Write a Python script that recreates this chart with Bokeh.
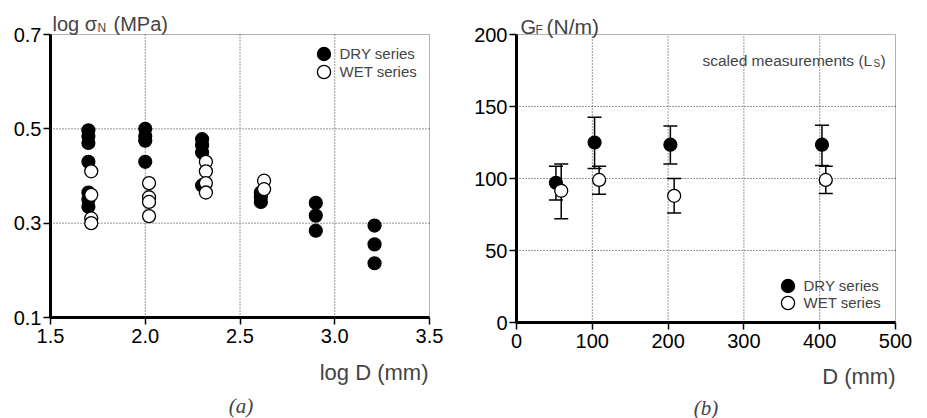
import numpy as np
from bokeh.plotting import figure
from bokeh.layouts import row
from bokeh.models import (ColumnDataSource, Label, Legend, LegendItem, FixedTicker,
                          Whisker, TeeHead, Range1d, NumeralTickFormatter, BoxAnnotation)
from bokeh.embed import file_html
from bokeh.resources import INLINE

# ---------------- data: panel (a) ----------------
series_names = ["DRY series", "WET series"]

dry_logD_a = [1.70] * 7 + [2.00] * 4 + [2.30] * 4 + [2.61] * 3 + [2.90] * 3 + [3.21] * 3
dry_logsig = [0.497, 0.485, 0.47, 0.43, 0.365, 0.35, 0.335,
              0.50, 0.485, 0.475, 0.43,
              0.478, 0.465, 0.45, 0.38,
              0.365, 0.355, 0.345,
              0.343, 0.316, 0.284,
              0.295, 0.255, 0.215]
wet_logD_a = [1.715] * 4 + [2.02] * 4 + [2.32] * 4 + [2.627] * 2
wet_logsig = [0.41, 0.36, 0.31, 0.30,
              0.385, 0.355, 0.345, 0.315,
              0.43, 0.41, 0.385, 0.365,
              0.39, 0.372]

xticks_a = [1.5, 2.0, 2.5, 3.0, 3.5]
yticks_a = [0.1, 0.3, 0.5, 0.7]
xgrid_a = [2.0, 2.5, 3.0]
ygrid_a = [0.3, 0.5]

# ---------------- data: panel (b) ----------------
dry_D_b = [52, 103, 203, 403]
dry_GF = [97, 125, 123.5, 123.5]
dry_up = [108.5, 142.5, 136.5, 137]
dry_lo = [85, 107, 110, 109]
wet_D_b = [59, 109, 208, 408]
wet_GF = [91.5, 99, 88, 99]
wet_up = [110, 108.5, 100, 108.5]
wet_lo = [72, 89, 76, 89.5]

xticks_b = [0, 100, 200, 300, 400, 500]
yticks_b = [0, 50, 100, 150, 200]
xgrid_b = [100, 200, 300, 400]
ygrid_b = [50, 100, 150]

FONT = "Liberation Sans"
H = 418


def rng(v0, v1, px0, px1, total):
    """Range so that value v0 sits at pixel px0 and v1 at px1 (pixels from left / bottom)."""
    scale = (v1 - v0) / (px1 - px0)
    start = v0 - px0 * scale
    return Range1d(start, start + total * scale)


def make_fig(w, xr, yr):
    p = figure(width=w, height=H, x_range=xr, y_range=yr, output_backend="svg",
               toolbar_location=None, min_border=0, min_border_left=0, min_border_right=0,
               min_border_top=0, min_border_bottom=0)
    p.outline_line_color = None
    p.background_fill_color = "white"
    p.border_fill_color = "white"
    p.grid.visible = False
    return p


def style(p, xt, yt, xg, yg, xfmt, yfmt):
    p.xaxis.fixed_location = yt[0]
    p.yaxis.fixed_location = xt[0]
    p.xaxis.bounds = (xt[0], xt[-1])
    p.yaxis.bounds = (yt[0], yt[-1])
    for ax, t, f in ((p.xaxis, xt, xfmt), (p.yaxis, yt, yfmt)):
        ax.ticker = FixedTicker(ticks=t)
        ax.formatter = NumeralTickFormatter(format=f)
        ax.axis_line_width = 3
        ax.axis_line_color = "black"
        ax.major_tick_line_width = 1.5
        ax.major_tick_line_color = "black"
        ax.major_tick_out = 7
        ax.major_tick_in = 0
        ax.minor_tick_line_color = None
        ax.major_label_text_font = FONT
        ax.major_label_text_font_size = "20px"
        ax.major_label_text_color = "black"
    p.xaxis.major_label_standoff = 4
    p.yaxis.major_label_standoff = 2
    # dotted grid lines inside the plot box
    p.segment(x0=xg, y0=[yt[0]] * len(xg), x1=xg, y1=[yt[-1]] * len(xg),
              line_color="#333333", line_dash="1 2", line_width=1, level="underlay")
    p.segment(x0=[xt[0]] * len(yg), y0=yg, x1=[xt[-1]] * len(yg), y1=yg,
              line_color="#333333", line_dash="1 2", line_width=1, level="underlay")
    # thin frame (top / right)
    p.add_layout(BoxAnnotation(left=xt[0], right=xt[-1], bottom=yt[0], top=yt[-1],
                               fill_alpha=0, line_color="black", line_width=1))


def legends(p, rdry, rwet, locs):
    for r, name, loc in ((rdry, series_names[0], locs[0]), (rwet, series_names[1], locs[1])):
        leg = Legend(items=[LegendItem(label=name, renderers=[r])],
                     location=loc, glyph_width=33, glyph_height=33, label_height=33,
                     spacing=0, label_standoff=0, padding=0, margin=0,
                     label_text_font=FONT, label_text_font_size="15px",
                     border_line_color=None, background_fill_alpha=0)
        p.add_layout(leg)


# ---------------- panel (a) ----------------
p1 = make_fig(463, rng(1.5, 3.5, 50, 429, 463), rng(0.1, 0.7, H - 317, H - 34, H))
style(p1, xticks_a, yticks_a, xgrid_a, ygrid_a, "0.0", "0.0")

ra_dry = p1.scatter(dry_logD_a, dry_logsig, size=13, fill_color="black", line_color="black", line_width=1.2)
ra_wet = p1.scatter(wet_logD_a, wet_logsig, size=13, fill_color="white", line_color="black", line_width=1.3)
legends(p1, ra_dry, ra_wet, [(306.5, H - 69.5), (306.5, H - 87.5)])

p1.add_layout(Label(x=1.5, y=0.7, x_offset=2, y_offset=11, text="log σ", text_font=FONT,
                    text_font_size="20px", text_baseline="alphabetic"))
p1.add_layout(Label(x=1.5, y=0.7, x_offset=47, y_offset=7, text="N", text_font=FONT,
                    text_font_size="12px", text_baseline="alphabetic"))
p1.add_layout(Label(x=1.5, y=0.7, x_offset=63, y_offset=11, text="(MPa)", text_font=FONT,
                    text_font_size="20px", text_baseline="alphabetic"))
p1.add_layout(Label(x=3.5, y=0.1, x_offset=-1, y_offset=-55, text="log D (mm)", text_font=FONT,
                    text_font_size="22px", text_align="right", text_baseline="alphabetic"))
p1.add_layout(Label(x=2.5, y=0.1, x_offset=1, y_offset=-88, text="(a)", text_font="Liberation Serif",
                    text_font_style="italic", text_font_size="21px", text_align="center",
                    text_baseline="middle"))

# ---------------- panel (b) ----------------
p2 = make_fig(464, rng(0, 500, 53, 432, 464), rng(0, 200, H - 322, H - 34, H))
style(p2, xticks_b, yticks_b, xgrid_b, ygrid_b, "0", "0")

src_dry = ColumnDataSource(dict(x=dry_D_b, y=dry_GF, upper=dry_up, lower=dry_lo))
src_wet = ColumnDataSource(dict(x=wet_D_b, y=wet_GF, upper=wet_up, lower=wet_lo))
for src in (src_dry, src_wet):
    p2.add_layout(Whisker(source=src, base="x", upper="upper", lower="lower", dimension="height",
                          line_color="black", line_width=1.5, level="underlay",
                          upper_head=TeeHead(size=14, line_width=1.5, line_color="black"),
                          lower_head=TeeHead(size=14, line_width=1.5, line_color="black")))
rb_dry = p2.scatter("x", "y", source=src_dry, size=13, fill_color="black", line_color="black", line_width=1.2)
rb_wet = p2.scatter("x", "y", source=src_wet, size=13, fill_color="white", line_color="black", line_width=1.3)
legends(p2, rb_dry, rb_wet, [(307.5, H - 301.5), (307.5, H - 318.5)])

p2.add_layout(Label(x=0, y=200, x_offset=4, y_offset=8, text="G", text_font=FONT,
                    text_font_size="20px", text_baseline="alphabetic"))
p2.add_layout(Label(x=0, y=200, x_offset=19, y_offset=5, text="F", text_font=FONT,
                    text_font_size="12px", text_baseline="alphabetic"))
p2.add_layout(Label(x=0, y=200, x_offset=30, y_offset=8, text="(N/m)", text_font=FONT,
                    text_font_size="21px", text_baseline="alphabetic"))
p2.add_layout(Label(x=0, y=200, x_offset=186, y_offset=-26, text="scaled measurements (L", text_font=FONT,
                    text_font_size="15.5px", text_baseline="alphabetic"))
p2.add_layout(Label(x=0, y=200, x_offset=357, y_offset=-29, text="S", text_font=FONT,
                    text_font_size="10px", text_baseline="alphabetic"))
p2.add_layout(Label(x=0, y=200, x_offset=364, y_offset=-26, text=")", text_font=FONT,
                    text_font_size="15.5px", text_baseline="alphabetic"))
p2.add_layout(Label(x=500, y=0, x_offset=0, y_offset=-54, text="D (mm)", text_font=FONT,
                    text_font_size="22px", text_align="right", text_baseline="alphabetic"))
p2.add_layout(Label(x=250, y=0, x_offset=0, y_offset=-85, text="(b)", text_font="Liberation Serif",
                    text_font_style="italic", text_font_size="21px", text_align="center",
                    text_baseline="middle"))

layout = row(p1, p2)
open("out.html", "w").write(file_html(layout, INLINE))
